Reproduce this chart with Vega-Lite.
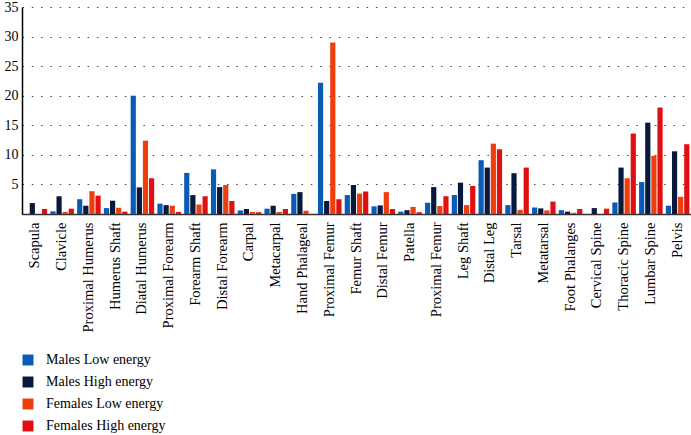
{
  "$schema": "https://vega.github.io/schema/vega-lite/v6.json",
  "width": 669,
  "height": 207,
  "autosize": "none",
  "padding": {"left": 22, "top": 7, "right": 0, "bottom": 221},
  "background": "white",
  "config": {"view": {"stroke": null}, "font": "Liberation Serif"},
  "datasets": {
    "rows": [
      {"category": "Scapula", "series": "Males Low energy", "value": 0},
      {"category": "Scapula", "series": "Males High energy", "value": 1.85},
      {"category": "Scapula", "series": "Females Low energy", "value": 0},
      {"category": "Scapula", "series": "Females High energy", "value": 0.85},
      {"category": "Clavicle", "series": "Males Low energy", "value": 0.45},
      {"category": "Clavicle", "series": "Males High energy", "value": 3.0},
      {"category": "Clavicle", "series": "Females Low energy", "value": 0.35},
      {"category": "Clavicle", "series": "Females High energy", "value": 0.9},
      {"category": "Proximal Humerus", "series": "Males Low energy", "value": 2.5},
      {"category": "Proximal Humerus", "series": "Males High energy", "value": 1.4},
      {"category": "Proximal Humerus", "series": "Females Low energy", "value": 3.85},
      {"category": "Proximal Humerus", "series": "Females High energy", "value": 3.1},
      {"category": "Humerus Shaft", "series": "Males Low energy", "value": 1.0},
      {"category": "Humerus Shaft", "series": "Males High energy", "value": 2.25},
      {"category": "Humerus Shaft", "series": "Females Low energy", "value": 1.05},
      {"category": "Humerus Shaft", "series": "Females High energy", "value": 0.4},
      {"category": "Diatal Humerus", "series": "Males Low energy", "value": 20.0},
      {"category": "Diatal Humerus", "series": "Males High energy", "value": 4.5},
      {"category": "Diatal Humerus", "series": "Females Low energy", "value": 12.4},
      {"category": "Diatal Humerus", "series": "Females High energy", "value": 6.05},
      {"category": "Proximal Forearm", "series": "Males Low energy", "value": 1.75},
      {"category": "Proximal Forearm", "series": "Males High energy", "value": 1.5},
      {"category": "Proximal Forearm", "series": "Females Low energy", "value": 1.4},
      {"category": "Proximal Forearm", "series": "Females High energy", "value": 0.35},
      {"category": "Forearm Shaft", "series": "Males Low energy", "value": 6.95},
      {"category": "Forearm Shaft", "series": "Males High energy", "value": 3.2},
      {"category": "Forearm Shaft", "series": "Females Low energy", "value": 1.6},
      {"category": "Forearm Shaft", "series": "Females High energy", "value": 3.0},
      {"category": "Distal Forearm", "series": "Males Low energy", "value": 7.55},
      {"category": "Distal Forearm", "series": "Males High energy", "value": 4.55},
      {"category": "Distal Forearm", "series": "Females Low energy", "value": 4.9},
      {"category": "Distal Forearm", "series": "Females High energy", "value": 2.2},
      {"category": "Carpal", "series": "Males Low energy", "value": 0.6},
      {"category": "Carpal", "series": "Males High energy", "value": 0.85},
      {"category": "Carpal", "series": "Females Low energy", "value": 0.35},
      {"category": "Carpal", "series": "Females High energy", "value": 0.3},
      {"category": "Metacarpal", "series": "Males Low energy", "value": 0.9},
      {"category": "Metacarpal", "series": "Males High energy", "value": 1.4},
      {"category": "Metacarpal", "series": "Females Low energy", "value": 0.35},
      {"category": "Metacarpal", "series": "Females High energy", "value": 0.85},
      {"category": "Hand Phalageal", "series": "Males Low energy", "value": 3.4},
      {"category": "Hand Phalageal", "series": "Males High energy", "value": 3.7},
      {"category": "Hand Phalageal", "series": "Females Low energy", "value": 0.55},
      {"category": "Hand Phalageal", "series": "Females High energy", "value": 0},
      {"category": "Proximal Femur", "series": "Males Low energy", "value": 22.2},
      {"category": "Proximal Femur", "series": "Males High energy", "value": 2.2},
      {"category": "Proximal Femur", "series": "Females Low energy", "value": 29.0},
      {"category": "Proximal Femur", "series": "Females High energy", "value": 2.5},
      {"category": "Femur Shaft", "series": "Males Low energy", "value": 3.2},
      {"category": "Femur Shaft", "series": "Males High energy", "value": 4.9},
      {"category": "Femur Shaft", "series": "Females Low energy", "value": 3.45},
      {"category": "Femur Shaft", "series": "Females High energy", "value": 3.8},
      {"category": "Distal Femur", "series": "Males Low energy", "value": 1.3},
      {"category": "Distal Femur", "series": "Males High energy", "value": 1.45},
      {"category": "Distal Femur", "series": "Females Low energy", "value": 3.7},
      {"category": "Distal Femur", "series": "Females High energy", "value": 0.85},
      {"category": "Patella", "series": "Males Low energy", "value": 0.4},
      {"category": "Patella", "series": "Males High energy", "value": 0.65},
      {"category": "Patella", "series": "Females Low energy", "value": 1.2},
      {"category": "Patella", "series": "Females High energy", "value": 0.3},
      {"category": "Proximal Femur (2)", "series": "Males Low energy", "value": 1.9},
      {"category": "Proximal Femur (2)", "series": "Males High energy", "value": 4.55},
      {"category": "Proximal Femur (2)", "series": "Females Low energy", "value": 1.35},
      {"category": "Proximal Femur (2)", "series": "Females High energy", "value": 3.0},
      {"category": "Leg Shaft", "series": "Males Low energy", "value": 3.2},
      {"category": "Leg Shaft", "series": "Males High energy", "value": 5.3},
      {"category": "Leg Shaft", "series": "Females Low energy", "value": 1.5},
      {"category": "Leg Shaft", "series": "Females High energy", "value": 4.75},
      {"category": "Distal Leg", "series": "Males Low energy", "value": 9.1},
      {"category": "Distal Leg", "series": "Males High energy", "value": 7.85},
      {"category": "Distal Leg", "series": "Females Low energy", "value": 11.9},
      {"category": "Distal Leg", "series": "Females High energy", "value": 10.95},
      {"category": "Tarsal", "series": "Males Low energy", "value": 1.5},
      {"category": "Tarsal", "series": "Males High energy", "value": 6.9},
      {"category": "Tarsal", "series": "Females Low energy", "value": 0.7},
      {"category": "Tarsal", "series": "Females High energy", "value": 7.85},
      {"category": "Metatarsal", "series": "Males Low energy", "value": 1.1},
      {"category": "Metatarsal", "series": "Males High energy", "value": 0.95},
      {"category": "Metatarsal", "series": "Females Low energy", "value": 0.6},
      {"category": "Metatarsal", "series": "Females High energy", "value": 2.1},
      {"category": "Foot Phalanges", "series": "Males Low energy", "value": 0.65},
      {"category": "Foot Phalanges", "series": "Males High energy", "value": 0.4},
      {"category": "Foot Phalanges", "series": "Females Low energy", "value": 0.2},
      {"category": "Foot Phalanges", "series": "Females High energy", "value": 0.85},
      {"category": "Cervical Spine", "series": "Males Low energy", "value": 0},
      {"category": "Cervical Spine", "series": "Males High energy", "value": 1.0},
      {"category": "Cervical Spine", "series": "Females Low energy", "value": 0},
      {"category": "Cervical Spine", "series": "Females High energy", "value": 0.9},
      {"category": "Thoracic Spine", "series": "Males Low energy", "value": 1.95},
      {"category": "Thoracic Spine", "series": "Males High energy", "value": 7.85},
      {"category": "Thoracic Spine", "series": "Females Low energy", "value": 6.05},
      {"category": "Thoracic Spine", "series": "Females High energy", "value": 13.6},
      {"category": "Lumbar Spine", "series": "Males Low energy", "value": 5.4},
      {"category": "Lumbar Spine", "series": "Males High energy", "value": 15.45},
      {"category": "Lumbar Spine", "series": "Females Low energy", "value": 9.85},
      {"category": "Lumbar Spine", "series": "Females High energy", "value": 18.0},
      {"category": "Pelvis", "series": "Males Low energy", "value": 1.4},
      {"category": "Pelvis", "series": "Males High energy", "value": 10.6},
      {"category": "Pelvis", "series": "Females Low energy", "value": 2.9},
      {"category": "Pelvis", "series": "Females High energy", "value": 11.8}
    ]
  },
  "data": {"name": "rows"},
  "mark": {"type": "bar"},
  "encoding": {
    "x": {
      "field": "category",
      "type": "nominal",
      "sort": null,
      "scale": {"paddingInner": 0.12, "paddingOuter": 0.06},
      "axis": {
        "title": null,
        "labelAngle": -90,
        "labelAlign": "right",
        "labelBaseline": "middle",
        "labelFont": "Liberation Serif",
        "labelFontSize": 14.5,
        "labelColor": "#000",
        "ticks": false,
        "labelPadding": 8,
        "labelLimit": 200,
        "domainColor": "#333",
        "domainWidth": 1.5,
        "labelExpr": "replace(datum.label, ' (2)', '')"
      }
    },
    "xOffset": {
      "field": "series",
      "type": "nominal",
      "sort": ["Males Low energy", "Males High energy", "Females Low energy", "Females High energy"],
      "scale": {"paddingInner": 0.15}
    },
    "y": {
      "field": "value",
      "type": "quantitative",
      "scale": {"domain": [0, 35]},
      "axis": {
        "title": null,
        "values": [0, 5, 10, 15, 20, 25, 30, 35],
        "ticks": false,
        "labelPadding": 4,
        "labelFont": "Liberation Serif",
        "labelFontSize": 14,
        "labelColor": "#000",
        "domainColor": "#000",
        "domainWidth": 1.5,
        "gridColor": "#444",
        "gridDash": [1.5, 7.8],
        "gridWidth": 1.2,
        "labelExpr": "datum.value == 0 ? '' : datum.label"
      }
    },
    "color": {
      "field": "series",
      "type": "nominal",
      "scale": {
        "domain": ["Males Low energy", "Males High energy", "Females Low energy", "Females High energy"],
        "range": ["#0a5bb5", "#071a3d", "#ee3e0e", "#e01010"]
      },
      "legend": {
        "title": null,
        "orient": "none",
        "legendX": -1,
        "legendY": 346,
        "symbolType": "square",
        "symbolSize": 120,
        "symbolStrokeWidth": 0,
        "labelFont": "Liberation Serif",
        "labelFontSize": 14,
        "labelColor": "#000",
        "labelOffset": 11,
        "rowPadding": 8
      }
    }
  }
}
